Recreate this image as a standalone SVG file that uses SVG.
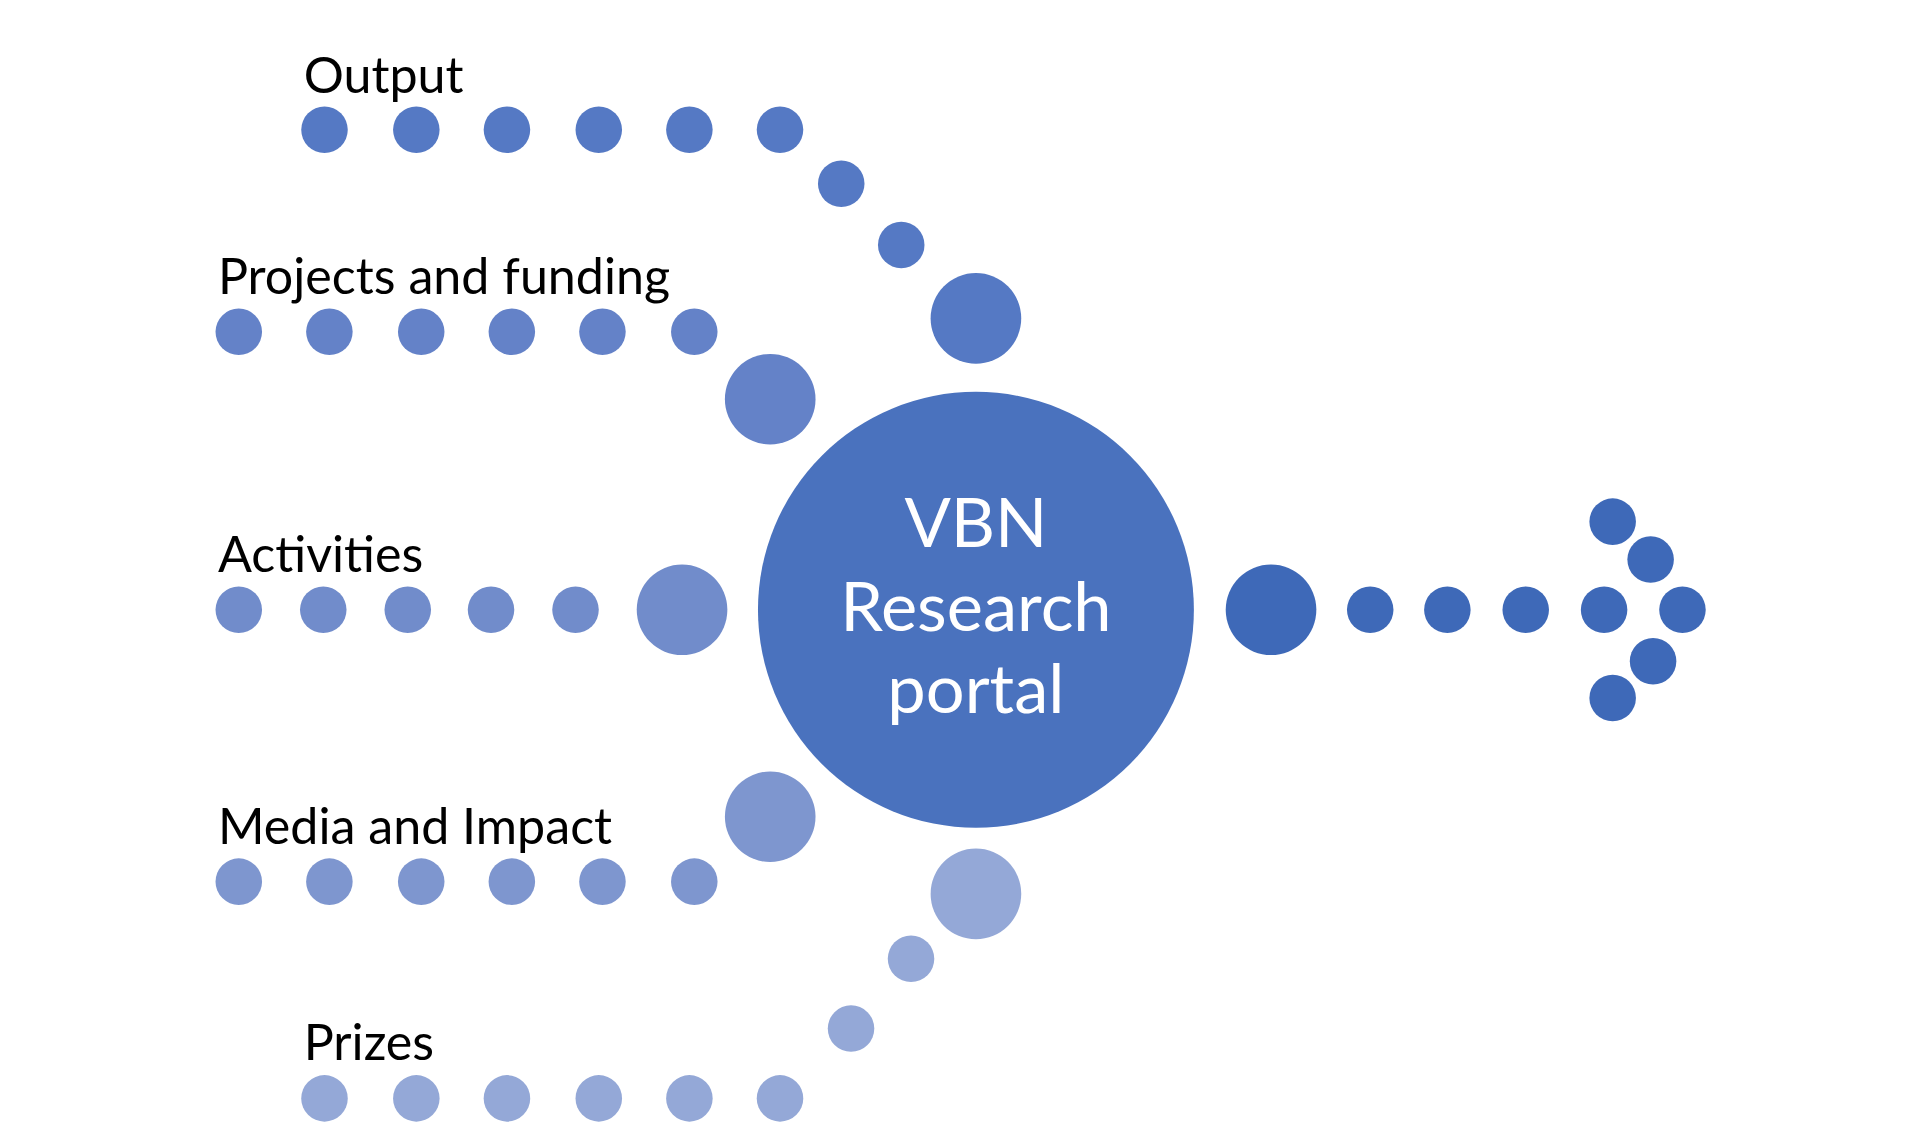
<svg xmlns="http://www.w3.org/2000/svg" width="1920" height="1123" viewBox="0 0 1920 1123">
<style>
.l{font-family:Lato,"Open Sans",sans-serif;font-size:41px;fill:#000}
.c{font-family:Lato,"Open Sans",sans-serif;font-size:56px;fill:#fff;text-anchor:middle}
.o{fill:#5579C4}.p{fill:#6482C8}.a{fill:#718CCB}.m{fill:#7E96CF}.z{fill:#94A8D7}.r{fill:#3E69B8}
</style>
<rect width="1920" height="1123" fill="#fff"/>
<g transform="scale(1.2245)">
<g id="connectors">
<g class="o"><circle cx="265" cy="106" r="19"/><circle cx="340" cy="106" r="19"/><circle cx="414" cy="106" r="19"/><circle cx="489" cy="106" r="19"/><circle cx="563" cy="106" r="19"/><circle cx="637" cy="106" r="19"/><circle cx="687" cy="150" r="19"/><circle cx="736" cy="200" r="19"/><circle cx="797" cy="260" r="37"/></g>
<g class="p"><circle cx="195" cy="271" r="19"/><circle cx="269" cy="271" r="19"/><circle cx="344" cy="271" r="19"/><circle cx="418" cy="271" r="19"/><circle cx="492" cy="271" r="19"/><circle cx="567" cy="271" r="19"/><circle cx="629" cy="326" r="37"/></g>
<g class="a"><circle cx="195" cy="498" r="19"/><circle cx="264" cy="498" r="19"/><circle cx="333" cy="498" r="19"/><circle cx="401" cy="498" r="19"/><circle cx="470" cy="498" r="19"/><circle cx="557" cy="498" r="37"/></g>
<g class="m"><circle cx="195" cy="720" r="19"/><circle cx="269" cy="720" r="19"/><circle cx="344" cy="720" r="19"/><circle cx="418" cy="720" r="19"/><circle cx="492" cy="720" r="19"/><circle cx="567" cy="720" r="19"/><circle cx="629" cy="667" r="37"/></g>
<g class="z"><circle cx="265" cy="897" r="19"/><circle cx="340" cy="897" r="19"/><circle cx="414" cy="897" r="19"/><circle cx="489" cy="897" r="19"/><circle cx="563" cy="897" r="19"/><circle cx="637" cy="897" r="19"/><circle cx="695" cy="840" r="19"/><circle cx="744" cy="783" r="19"/><circle cx="797" cy="730" r="37"/></g>
<g class="r"><circle cx="1038" cy="498" r="37"/><circle cx="1119" cy="498" r="19"/><circle cx="1182" cy="498" r="19"/><circle cx="1246" cy="498" r="19"/><circle cx="1310" cy="498" r="19"/><circle cx="1374" cy="498" r="19"/><circle cx="1317" cy="426" r="19"/><circle cx="1348" cy="457" r="19"/><circle cx="1350" cy="540" r="19"/><circle cx="1317" cy="570" r="19"/></g>
</g>
<g id="labels">
<text class="l" x="248" y="76">Output</text>
<text class="l" x="178" y="240">Projects and funding</text>
<text class="l" x="178" y="467">Activities</text>
<text class="l" x="178" y="689">Media and Impact</text>
<text class="l" x="248" y="866">Prizes</text>
</g>
<g id="portal">
<circle cx="797" cy="498" r="178" fill="#4A72BE"/>
<text class="c" x="797" y="447">VBN</text>
<text class="c" x="797" y="515">Research</text>
<text class="c" x="797" y="582">portal</text>
</g>
</g>
</svg>
